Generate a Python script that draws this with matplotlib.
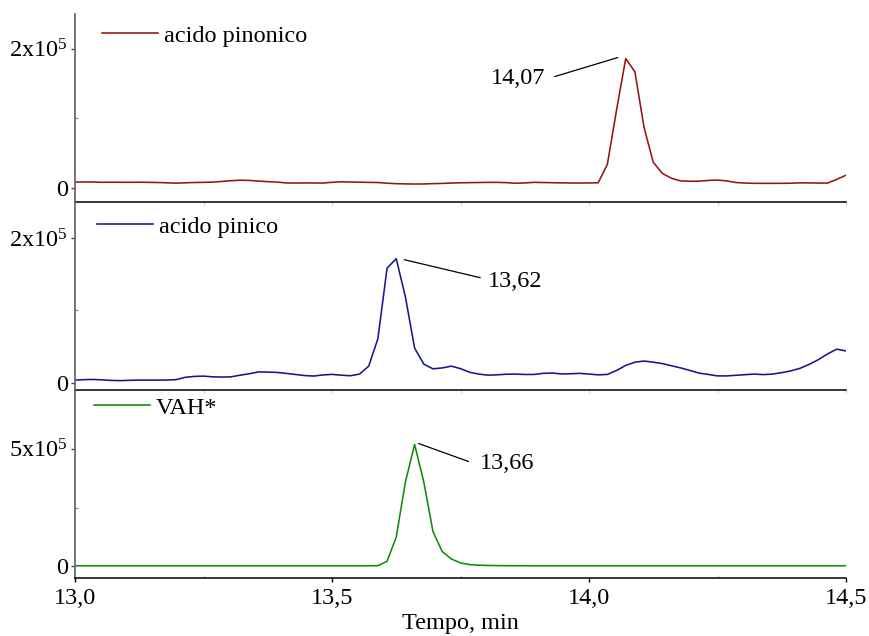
import numpy as np
import matplotlib
matplotlib.use("Agg")
import matplotlib.pyplot as plt
from matplotlib.transforms import offset_copy

plt.rcParams["font.family"] = ["Liberation Serif", "DejaVu Serif"]
plt.rcParams["mathtext.fontset"] = "custom"
plt.rcParams["mathtext.rm"] = "Liberation Serif"

# Retention time grid (min), one point per scan
scan_time = np.linspace(13.0, 14.5, 85)

# Extracted ion intensities, thousands of counts
pinonic_k = [
    8.6, 8.8, 8.7, 8.3, 8.4, 8.3, 8.3, 8.4, 8.2, 8.0,
    7.6, 7.0, 7.6, 8.0, 8.2, 8.6, 9.5, 10.6, 11.3, 11.0,
    10.0, 9.2, 8.6, 7.4, 7.2, 7.4, 7.3, 7.2, 8.3, 9.0,
    8.7, 8.4, 8.2, 8.0, 7.0, 6.3, 6.0, 5.8, 5.9, 6.4,
    6.7, 7.2, 7.6, 7.8, 8.0, 8.2, 8.2, 7.8, 6.9, 7.4,
    8.2, 8.0, 7.7, 7.5, 7.3, 7.2, 7.4, 7.6, 34.0, 112.0,
    186.0, 167.0, 87.0, 37.0, 21.0, 14.0, 10.3, 9.8, 10.0, 11.0,
    11.5, 10.3, 8.0, 7.2, 6.8, 6.8, 6.8, 6.8, 7.0, 7.5,
    7.4, 7.2, 7.2, 12.5, 18.5,
]
pinic_k = [
    3.7, 4.3, 4.6, 4.0, 3.2, 3.0, 3.4, 3.7, 3.7, 3.7,
    3.8, 4.3, 7.5, 8.8, 9.2, 8.2, 7.9, 8.2, 10.5, 12.5,
    15.0, 14.8, 14.3, 13.0, 11.5, 10.0, 9.3, 10.8, 11.6, 10.5,
    9.7, 12.0, 23.0, 61.0, 158.6, 171.6, 118.6, 48.0, 25.8, 19.3,
    20.5, 23.0, 19.5, 14.5, 12.0, 10.5, 11.0, 11.8, 12.0, 11.5,
    11.5, 13.0, 13.5, 12.2, 12.5, 13.0, 12.0, 11.0, 11.5, 17.0,
    24.0, 28.5, 30.0, 28.5, 26.5, 23.5, 20.5, 17.0, 13.3, 11.5,
    9.5, 9.5, 10.3, 11.2, 12.0, 11.3, 12.0, 14.0, 16.5, 20.0,
    25.5, 32.0, 40.0, 46.5, 44.0,
]
vah_k = [
    2.0, 2.0, 2.0, 2.0, 2.0, 2.0, 2.0, 2.0, 2.0, 2.0,
    2.0, 2.0, 2.0, 2.0, 2.0, 2.0, 2.0, 2.0, 2.0, 2.0,
    2.0, 2.0, 2.0, 2.0, 2.0, 2.0, 2.0, 2.0, 2.0, 2.0,
    2.0, 2.0, 2.0, 2.3, 21.0, 124.0, 359.0, 518.0, 359.0, 148.0,
    63.0, 31.0, 14.0, 7.0, 4.5, 3.5, 2.8, 2.4, 2.2, 2.1,
    2.0, 2.0, 2.0, 2.0, 2.0, 2.0, 2.0, 2.0, 2.0, 2.0,
    2.0, 2.0, 2.0, 2.0, 2.0, 2.0, 2.0, 2.0, 2.0, 2.0,
    2.0, 2.0, 2.0, 2.0, 2.0, 2.0, 2.0, 2.0, 2.0, 2.0,
    2.0, 2.0, 2.0, 2.0, 2.0,
]

series_names = ["acido pinonico", "acido pinico", "VAH*"]
series_values = [pinonic_k, pinic_k, vah_k]
series_colors = ["#961414", "#161690", "#108a10"]
peak_labels = ["14,07", "13,62", "13,66"]

y_limits = [(-0.2e5, 2.5e5), (-0.1e5, 2.5e5), (-0.5e5, 7.5e5)]
y_major = [[0, 2e5], [0, 2e5], [0, 5e5]]
y_major_labels = [["0", r"$\mathregular{2x10^5}$"],
                  ["0", r"$\mathregular{2x10^5}$"],
                  ["0", r"$\mathregular{5x10^5}$"]]
y_minor = [[1e5], [1e5], [2.5e5]]

x_major = [13.0, 13.5, 14.0, 14.5]
x_major_labels = ["13,0", "13,5", "14,0", "14,5"]
x_minor = [13.25, 13.75, 14.25]

# legend anchor (axes fraction) for each panel
legend_anchor = [(0.0346, 0.883), (0.0285, 0.869), (0.0246, 0.906)]

# leader line / label offsets from the peak apex, in pixels (x right, y up)
leader_end = [(-8, 1), (8, -1), (4, 1)]
leader_start = [(-71, -18), (84, -19), (54, -17)]
label_pos = [(-80, -20), (92, -23), (65, -19)]
label_ha = ["right", "left", "left"]

FS = 17.5
W, H = 869, 636
fig = plt.figure(figsize=(W / 100, H / 100), dpi=100)
gs = fig.add_gridspec(3, 1, left=75 / W, right=846 / W,
                      top=1 - 14 / H, bottom=1 - 578 / H, hspace=0)
axes = []
for i in range(3):
    ax = fig.add_subplot(gs[i], sharex=axes[0] if axes else None)
    ax.patch.set_visible(False)
    axes.append(ax)

for i, ax in enumerate(axes):
    y = np.array(series_values[i]) * 1e3
    line, = ax.plot(scan_time, y, color=series_colors[i], lw=1.15)
    ax.set_xlim(13.0, 14.5)
    ax.set_ylim(*y_limits[i])

    for s in ("top", "right"):
        ax.spines[s].set_visible(False)
    ax.spines["bottom"].set_color("black")
    ax.spines["bottom"].set_linewidth(1.1)
    ax.spines["bottom"].set_zorder(5)
    ax.spines["left"].set_color("#6a6a6a")
    ax.spines["left"].set_linewidth(1.3)

    ax.set_yticks(y_major[i])
    ax.set_yticklabels(y_major_labels[i])
    ax.set_yticks(y_minor[i], minor=True)
    ax.tick_params(axis="y", which="major", direction="out", length=3,
                   width=1, pad=2, labelsize=FS, color="#444444")
    ax.tick_params(axis="y", which="minor", direction="in", length=2.5,
                   width=0.8, color="#888888")

    ax.set_xticks(x_major)
    ax.set_xticks(x_minor, minor=True)
    if i < 2:
        ax.tick_params(axis="x", which="both", direction="out", length=2,
                       width=0.8, color="#cccccc", labelbottom=False)
    else:
        ax.set_xticklabels(x_major_labels)
        ax.tick_params(axis="x", which="major", direction="out", length=3,
                       width=1, pad=4, labelsize=FS, color="black")
        ax.tick_params(axis="x", which="minor", direction="in", length=2,
                       width=0.8, color="#bbbbbb")
        ax.set_xlabel("Tempo, min", fontsize=FS, labelpad=3)

    ax.legend([line], [series_names[i]], loc="center left",
              bbox_to_anchor=legend_anchor[i], frameon=False, borderpad=0,
              borderaxespad=0, handlelength=2.3, handletextpad=0.25,
              fontsize=FS)

    # peak apex and its retention-time label
    k = int(np.argmax(y))
    px, py = scan_time[k], y[k]
    tr_end = offset_copy(ax.transData, fig=fig, x=leader_end[i][0],
                         y=leader_end[i][1], units="dots")
    tr_start = offset_copy(ax.transData, fig=fig, x=leader_start[i][0],
                           y=leader_start[i][1], units="dots")
    ax.annotate("", xy=(px, py), xycoords=tr_end,
                xytext=(px, py), textcoords=tr_start,
                arrowprops=dict(arrowstyle="-", color="black", lw=0.9,
                                shrinkA=0, shrinkB=0),
                annotation_clip=False)
    ax.annotate(peak_labels[i], xy=(px, py), xytext=label_pos[i],
                textcoords="offset pixels", ha=label_ha[i], va="center",
                fontsize=FS, annotation_clip=False)

fig.savefig("out.png", dpi=100)
